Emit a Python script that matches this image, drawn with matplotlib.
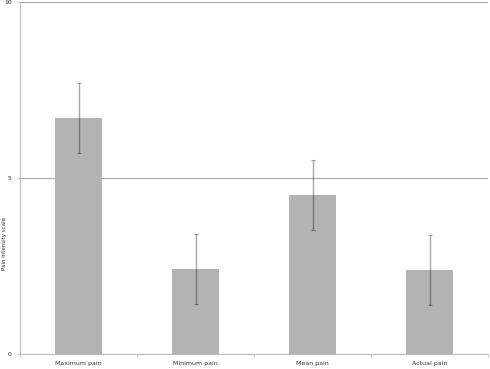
import numpy as np
import matplotlib
matplotlib.use('Agg')
import matplotlib.pyplot as plt

# data
categories = ['Maximum pain', 'Minimum pain', 'Mean pain', 'Actual pain']
means = [6.7, 2.42, 4.52, 2.38]
errors = [1.0, 1.0, 1.0, 1.0]
y_ticks = [0, 5, 10]

fig = plt.figure(figsize=(4.9, 3.69), dpi=100)
ax = fig.add_axes([20/490, 15/369, 468/490, 352/369])

x = np.arange(len(categories))
ax.bar(x, means, width=0.4, color='#b3b3b3', zorder=2)
ax.errorbar(x, means, yerr=errors, fmt='none', ecolor='black', alpha=0.35,
            elinewidth=1.0, capsize=1.2, capthick=0.8, zorder=3)

ax.set_xlim(-0.5, len(categories) - 0.5)
ax.set_ylim(0, 10)
ax.set_yticks(y_ticks)
ax.set_yticklabels([str(t) for t in y_ticks], fontsize=4.5, color='#333333')
ax.set_xticks(x)
ax.set_xticklabels(categories, fontsize=4.5, color='#333333')
ax.tick_params(axis='x', length=0, pad=5)
ax.tick_params(axis='y', length=2, width=0.6, color='#bbbbbb', pad=4)
# small ticks between categories on the x axis
ax.set_xticks(np.arange(-0.5, len(categories)), minor=True)
ax.tick_params(axis='x', which='minor', length=2, width=0.6, color='#bbbbbb')

ax.yaxis.grid(True, color='#aaaaaa', linewidth=0.8, zorder=0)
ax.set_axisbelow(True)
for s in ['top', 'right']:
    ax.spines[s].set_visible(False)
ax.spines['left'].set_color('#bbbbbb')
ax.spines['bottom'].set_color('#bbbbbb')
ax.spines['left'].set_linewidth(0.8)
ax.spines['bottom'].set_linewidth(0.8)

fig.text(5/490, 1 - 244/369, 'Pain intensity scale', rotation=90, fontsize=4,
         color='#333333', ha='center', va='center')

fig.savefig('out.png', dpi=100)
